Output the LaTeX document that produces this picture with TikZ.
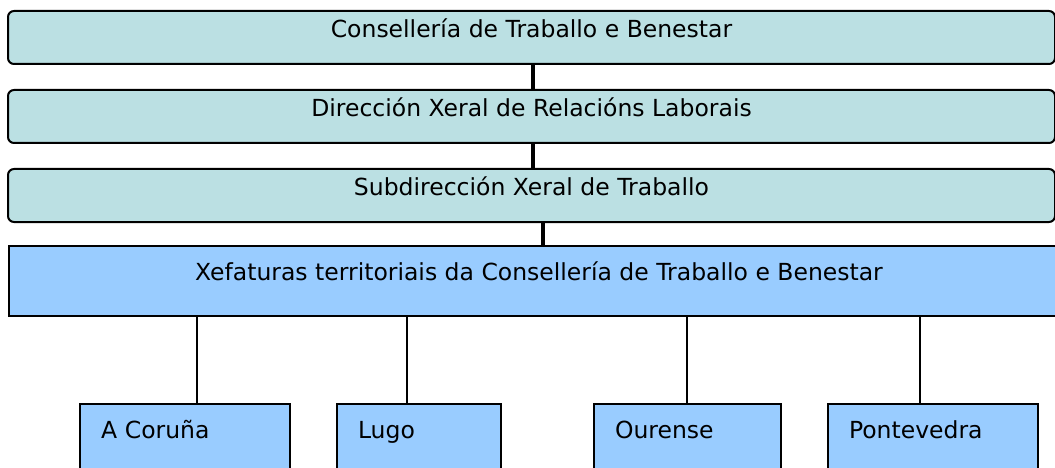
\documentclass[tikz,border=0pt]{standalone}
\usepackage{fontspec}
\setmainfont{DejaVu Sans}
\definecolor{tealbox}{RGB}{187,224,227}
\definecolor{bluebox}{RGB}{153,204,255}
\begin{document}
\begin{tikzpicture}[x=1pt,y=-1pt,
  font=\fontsize{23.5}{27}\selectfont,
  topbox/.style={draw=black, line width=2pt, fill=tealbox, rounded corners=6pt,
    anchor=north west, inner sep=0pt, minimum width=1047pt,
    text height=27pt, text depth=26pt},
  mainbox/.style={draw=black, line width=2pt, fill=bluebox,
    anchor=north west, inner sep=0pt, minimum width=1060pt,
    text height=34pt, text depth=36pt},
  provbox/.style={draw=black, line width=2pt, fill=bluebox,
    anchor=north west, inner ysep=0pt, inner xsep=21pt, text width=#1,
    align=left, text height=34pt, text depth=70pt},
  thickline/.style={line width=4.5pt, black},
  thinline/.style={line width=1.6pt, black}]
\useasboundingbox (0,0) rectangle (1055,468);
\clip (0,0) rectangle (1055,468);
\fill[white] (0,0) rectangle (1055,468);

\node[topbox] (b1) at (7,10) {Consellería de Traballo e Benestar};
\node[topbox] (b2) at (7,89) {Dirección Xeral de Relacións Laborais};
\node[topbox] (b3) at (7,168) {Subdirección Xeral de Traballo};
\node[mainbox] (x) at (8,245) {Xefaturas territoriais da Consellería de Traballo e Benestar};

\node[provbox=168pt] (a) at (79,403) {A Coruña};
\node[provbox=122pt] (l) at (336,403) {Lugo};
\node[provbox=145pt] (o) at (593,403) {Ourense};
\node[provbox=168pt] (p) at (827,403) {Pontevedra};

\coordinate (k1) at (533,0);
\coordinate (k2) at (533,0);
\coordinate (k3) at (543,0);
\draw[thickline] (k1 |- b1.south) -- (k1 |- b2.north);
\draw[thickline] (k2 |- b2.south) -- (k2 |- b3.north);
\draw[thickline] (k3 |- b3.south) -- (k3 |- x.north);

\coordinate (ka) at (197,0);
\coordinate (kl) at (407,0);
\coordinate (ko) at (687,0);
\coordinate (kp) at (920,0);
\draw[thinline] (ka |- x.south) -- (ka |- a.north);
\draw[thinline] (kl |- x.south) -- (kl |- l.north);
\draw[thinline] (ko |- x.south) -- (ko |- o.north);
\draw[thinline] (kp |- x.south) -- (kp |- p.north);
\end{tikzpicture}
\end{document}
